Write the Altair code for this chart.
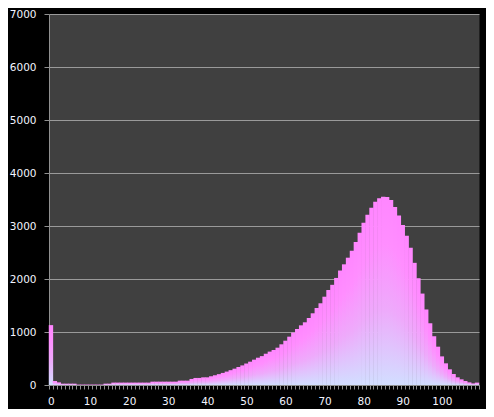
import altair as alt
import pandas as pd

bins = list(range(110))
counts = [
    1130, 75, 50, 25, 25, 25, 25, 8, 8, 8,
    8, 8, 8, 8, 25, 25, 45, 45, 45, 45,
    45, 45, 45, 45, 45, 45, 63, 63, 63, 63,
    63, 63, 63, 82, 82, 82, 114, 133, 133, 145,
    145, 165, 184, 205, 228, 253, 280, 308, 340, 370,
    405, 440, 478, 515, 545, 590, 630, 660, 704, 768,
    836, 912, 990, 1057, 1126, 1183, 1264, 1353, 1453, 1542,
    1666, 1792, 1890, 2020, 2160, 2277, 2402, 2534, 2698, 2874,
    3062, 3213, 3345, 3458, 3523, 3553, 3547, 3490, 3360, 3200,
    3020, 2815, 2590, 2305, 2015, 1725, 1425, 1165, 920, 723,
    540, 409, 296, 208, 145, 107, 75, 50, 30, 45,
]
y_ticks = [0, 1000, 2000, 3000, 4000, 5000, 6000, 7000]

df = pd.DataFrame({"bin": bins, "count": counts})

grad = alt.LinearGradient(
    gradient="linear",
    stops=[
        alt.GradientStop(color="#ff86ff", offset=0),
        alt.GradientStop(color="#ff8eff", offset=0.25),
        alt.GradientStop(color="#eeaafb", offset=0.6),
        alt.GradientStop(color="#d2deff", offset=1),
    ],
    x1=0, x2=0, y1=0, y2=1,
)

label_color = "#f2f4ff"
line_color = "#909090"

chart = (
    alt.Chart(df)
    .mark_bar(fill=grad, strokeWidth=0, width=alt.RelativeBandSize(band=1.12))
    .encode(
        x=alt.X(
            "bin:O",
            scale=alt.Scale(paddingInner=0, paddingOuter=0),
            axis=alt.Axis(
                title=None,
                labelAngle=0,
                labelExpr="datum.value % 10 === 0 ? datum.label : ''",
                labelOverlap=False,
                labelFlush=False,
                tickBand="extent",
                tickSize=4,
                tickColor=line_color,
                domainColor=line_color,
                labelColor=label_color,
                labelFont="DejaVu Sans",
                labelFontSize=10.5,
                labelPadding=7,
                grid=False,
            ),
        ),
        y=alt.Y(
            "count:Q",
            scale=alt.Scale(domain=[0, 7000], nice=False),
            axis=alt.Axis(
                title=None,
                values=y_ticks,
                format="d",
                grid=True,
                gridColor="#9a9a9a",
                gridWidth=1,
                tickSize=5,
                tickColor=line_color,
                domainColor=line_color,
                labelColor=label_color,
                labelFont="DejaVu Sans",
                labelFontSize=10.5,
                labelPadding=8,
            ),
        ),
    )
    .properties(
        width=430,
        height=371,
        autosize=alt.AutoSizeParams(type="none"),
        padding={"left": 41, "top": 6, "right": 7, "bottom": 24},
    )
    .configure(background="#000000")
    .configure_view(fill="#404040", strokeOpacity=0)
)

chart.save("out.html", embed_options={"renderer": "svg", "actions": False})
